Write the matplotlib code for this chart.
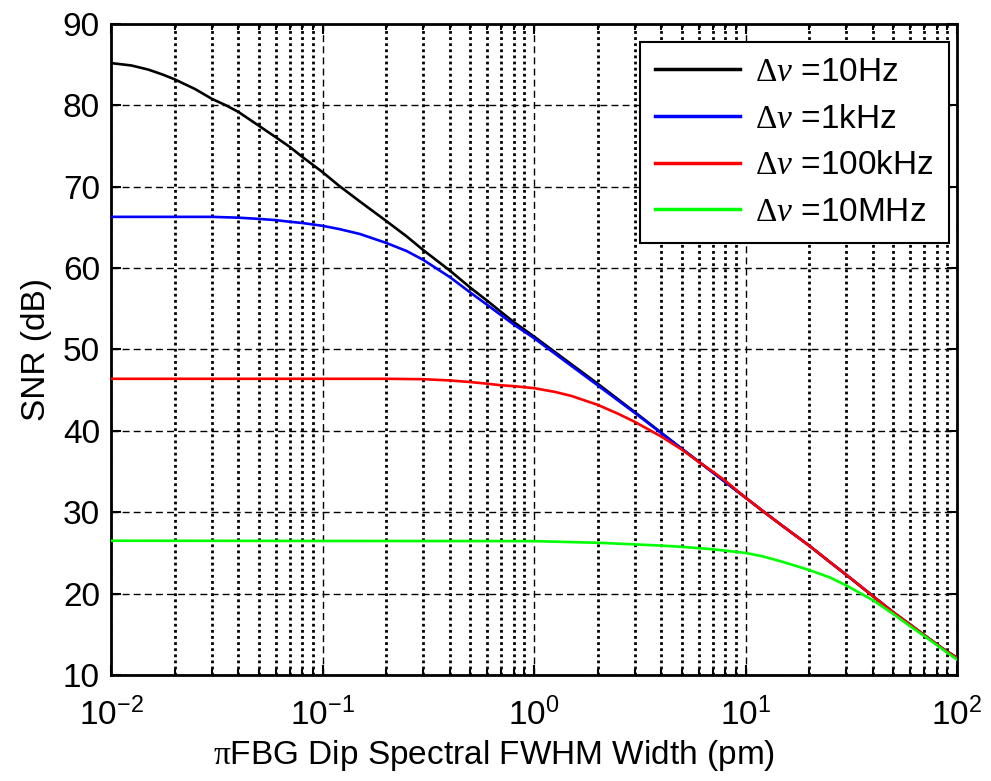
import math

import matplotlib
matplotlib.use("Agg")
import matplotlib.pyplot as plt
from matplotlib.ticker import LogLocator, FuncFormatter, NullFormatter, MultipleLocator

plt.rcParams["font.family"] = ["Liberation Sans", "DejaVu Sans"]
plt.rcParams["mathtext.fontset"] = "custom"
plt.rcParams["mathtext.rm"] = "Liberation Sans"
plt.rcParams["mathtext.sf"] = "Liberation Serif"
plt.rcParams["mathtext.it"] = "Liberation Serif:italic"

# FWHM width (pm) and SNR (dB)
x_black = [0.01, 0.0125, 0.015, 0.0175, 0.02, 0.025, 0.03, 0.035, 0.04, 0.05, 0.06, 0.07, 0.08,
           0.1, 0.12, 0.15, 0.2, 0.25, 0.3, 0.4, 0.5, 0.6, 0.7, 0.8, 1, 1.5, 2, 3, 5, 7,
           10, 12, 15, 20, 25, 30, 40, 50, 60, 70, 85, 100]
snr_black = [85.2, 84.9, 84.4, 83.8, 83.2, 82.0, 80.8, 80.0, 79.2, 77.5, 76.1, 74.9, 73.7,
             71.8, 70.1, 68.2, 65.8, 63.9, 62.2, 59.7, 57.6, 56.0, 54.6, 53.4, 51.6, 48.2, 45.8,
             42.3, 37.8, 34.9, 31.8, 30.2, 28.3, 25.9, 23.9, 22.3, 19.7, 17.7, 16.2, 14.9, 13.3, 12.1]

x_blue = [0.01, 0.03, 0.04, 0.05, 0.06, 0.07, 0.08, 0.1, 0.12, 0.15, 0.2, 0.25, 0.3, 0.4,
          0.5, 0.6, 0.7, 0.8, 1, 1.5, 2, 3, 5, 7, 10, 12, 15, 20, 25, 30, 40, 50, 60, 70, 85, 100]
snr_blue = [66.3, 66.3, 66.2, 66.05, 65.9, 65.7, 65.55, 65.2, 64.8, 64.2, 63.1, 62.1, 61.0, 58.9,
            57.0, 55.5, 54.2, 53.1, 51.4, 48.0, 45.6, 42.2, 37.8, 34.9, 31.8, 30.2, 28.3, 25.9,
            23.9, 22.3, 19.7, 17.7, 16.2, 14.9, 13.3, 12.1]

x_red = [0.01, 0.2, 0.3, 0.4, 0.5, 0.6, 0.7, 0.8, 1, 1.25, 1.5, 2, 2.5, 3, 4, 5, 6, 7, 8,
         10, 12, 15, 20, 25, 30, 40, 50, 60, 70, 85, 100]
snr_red = [46.4, 46.4, 46.35, 46.2, 46.0, 45.8, 45.6, 45.5, 45.25, 44.8, 44.3, 43.2, 42.1, 41.1,
           39.3, 37.7, 36.2, 35.0, 33.9, 31.8, 30.2, 28.3, 25.9, 23.9, 22.3, 19.7, 17.7, 16.2,
           14.9, 13.3, 12.1]

x_green = [0.01, 1, 2, 3, 4, 5, 7, 10, 12, 15, 20, 25, 30, 40, 50, 60, 70, 85, 100]
snr_green = [26.5, 26.45, 26.25, 26.05, 25.9, 25.75, 25.45, 25.0, 24.6, 23.9, 22.9, 22.0, 21.0,
             19.2, 17.5, 16.0, 14.8, 13.2, 11.9]

labels = [r"$\mathsf{\Delta}\nu$ =10Hz", r"$\mathsf{\Delta}\nu$ =1kHz",
          r"$\mathsf{\Delta}\nu$ =100kHz", r"$\mathsf{\Delta}\nu$ =10MHz"]
colors = ["black", "blue", "red", "#00ff00"]

fig = plt.figure(figsize=(9.91, 7.81), dpi=100)
ax = fig.add_axes([111 / 991, 106 / 781, 846 / 991, 651 / 781])

series = [(x_black, snr_black), (x_blue, snr_blue), (x_red, snr_red), (x_green, snr_green)]
for (xs, ys), c, lab in zip(series, colors, labels):
    ax.plot(xs, ys, color=c, lw=1.9, label=lab, zorder=3)

ax.set_xscale("log")
ax.set_xlim(1e-2, 1e2)
ax.set_ylim(10, 90)
ax.yaxis.set_major_locator(MultipleLocator(10))
ax.xaxis.set_major_locator(LogLocator(base=10, numticks=10))
ax.xaxis.set_minor_locator(LogLocator(base=10, subs=range(2, 10), numticks=20))
ax.xaxis.set_minor_formatter(NullFormatter())
ax.xaxis.set_major_formatter(FuncFormatter(
    lambda v, p: r"$\mathrm{10^{%d}}$" % round(math.log10(v))))

ax.grid(True, which="major", axis="y", color="black", lw=1.0, linestyle=(0, (5, 3)))
ax.grid(True, which="major", axis="x", color="black", lw=1.0, linestyle=(0, (5, 3)))
ax.grid(True, which="minor", axis="x", color="black", lw=2.0, linestyle=(0, (1, 1.2)))

for s in ax.spines.values():
    s.set_linewidth(2.0)
ax.tick_params(which="both", direction="in", top=True, right=True, width=1.5, labelsize=24)
ax.tick_params(axis="y", pad=8)
ax.tick_params(axis="x", pad=16)
ax.tick_params(which="major", length=7)
ax.tick_params(which="minor", length=4)

ax.set_xlabel(r"$\mathsf{\pi}$FBG Dip Spectral FWHM Width (pm)", fontsize=24)
ax.xaxis.set_label_coords(0.453, -0.097)
ax.set_ylabel("SNR (dB)", fontsize=24, labelpad=8)

leg = ax.legend(loc="upper right", bbox_to_anchor=(0.9905, 0.9724), borderaxespad=0,
                fontsize=24, handlelength=2.55, handletextpad=0.45, borderpad=0.45,
                labelspacing=0.47, fancybox=False, framealpha=1, edgecolor="black")
leg.get_frame().set_linewidth(1.5)
for h in leg.get_lines():
    h.set_linewidth(2.5)

fig.savefig("out.png", dpi=100)
